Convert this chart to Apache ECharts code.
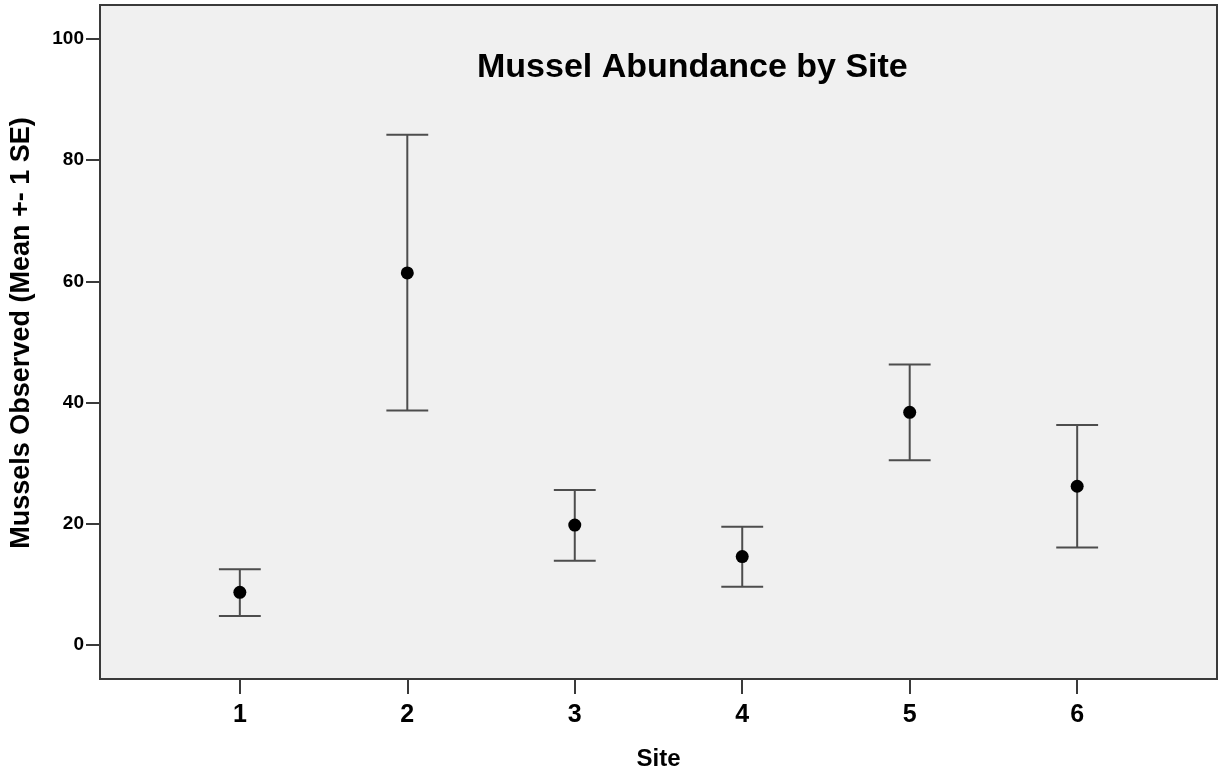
<!DOCTYPE html>
<html>
<head>
<meta charset="utf-8">
<script src="https://cdn.jsdelivr.net/npm/echarts@6/dist/echarts.min.js"></script>
<style>
html,body{margin:0;padding:0;background:#fff;}
#c{width:1221px;height:775px;}
</style>
</head>
<body>
<div id="c"></div>
<script>
var sites = [1, 2, 3, 4, 5, 6];
var means = [8.7, 61.4, 19.8, 14.6, 38.4, 26.2];
var upper = [12.5, 84.2, 25.6, 19.5, 46.3, 36.3];
var lower = [4.8, 38.7, 13.9, 9.6, 30.5, 16.1];
var yTicks = [0, 20, 40, 60, 80, 100];

var chart = echarts.init(document.getElementById('c'));
var font = 'Liberation Sans, Arial, sans-serif';

var errData = sites.map(function (s, i) { return [s, lower[i], upper[i]]; });
var meanData = sites.map(function (s, i) { return [s, means[i]]; });

chart.setOption({
  animation: false,
  backgroundColor: '#ffffff',
  title: {
    text: 'Mussel Abundance by Site',
    left: 472,
    top: 46,
    textStyle: { fontFamily: font, fontWeight: 'bold', fontSize: 34, color: '#000' }
  },
  grid: {
    left: 100, right: 4, top: 5, bottom: 96,
    outerBoundsMode: 'none',
    containLabel: false,
    show: true,
    backgroundColor: '#f0f0f0',
    borderColor: '#3a3a3a',
    borderWidth: 2
  },
  xAxis: {
    type: 'value',
    min: 0.165,
    max: 6.835,
    name: 'Site',
    nameLocation: 'middle',
    nameGap: 68,
    nameTextStyle: { fontFamily: font, fontWeight: 'bold', fontSize: 24, color: '#000' },
    axisLine: { show: false, onZero: false },
    splitLine: { show: false },
    axisTick: { show: true, customValues: sites, length: 15, lineStyle: { color: '#3a3a3a', width: 2 } },
    axisLabel: { customValues: sites, margin: 24, fontFamily: font, fontWeight: 'bold', fontSize: 25, color: '#000' }
  },
  yAxis: {
    type: 'value',
    min: -5.6,
    max: 105.6,
    name: 'Mussels Observed (Mean +- 1 SE)',
    nameLocation: 'middle',
    nameGap: 65,
    nameTextStyle: { fontFamily: font, fontWeight: 'bold', fontSize: 27, color: '#000', padding: [0, 0, 0, 18] },
    axisLine: { show: false, onZero: false },
    splitLine: { show: false },
    axisTick: { show: true, customValues: yTicks, length: 14, lineStyle: { color: '#3a3a3a', width: 2 } },
    axisLabel: { customValues: yTicks, margin: 16, fontFamily: font, fontWeight: 'bold', fontSize: 19, color: '#000' }
  },
  series: [
    {
      type: 'custom',
      data: errData,
      encode: { x: 0, y: [1, 2] },
      renderItem: function (params, api) {
        var x = api.value(0);
        var lo = api.coord([x, api.value(1)]);
        var hi = api.coord([x, api.value(2)]);
        var half = api.size([0.25, 0])[0] / 2;
        var style = { stroke: '#4d4d4d', lineWidth: 2, fill: null };
        return {
          type: 'group',
          children: [
            { type: 'line', shape: { x1: lo[0], y1: lo[1], x2: hi[0], y2: hi[1] }, style: style },
            { type: 'line', shape: { x1: hi[0] - half, y1: hi[1], x2: hi[0] + half, y2: hi[1] }, style: style },
            { type: 'line', shape: { x1: lo[0] - half, y1: lo[1], x2: lo[0] + half, y2: lo[1] }, style: style }
          ]
        };
      },
      z: 2
    },
    {
      type: 'scatter',
      data: meanData,
      symbol: 'circle',
      symbolSize: 13,
      itemStyle: { color: '#000', opacity: 1 },
      z: 3
    }
  ]
});
</script>
</body>
</html>
